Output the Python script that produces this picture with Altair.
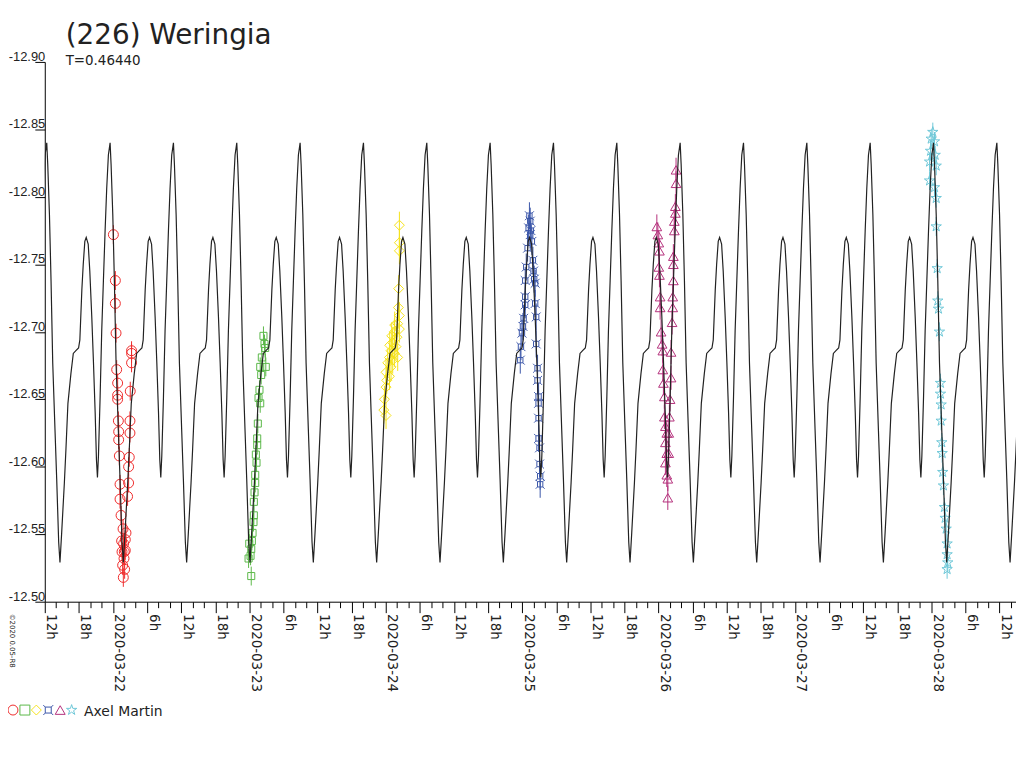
import altair as alt
import pandas as pd

TITLE = "(226) Weringia"
SUBTITLE = "T=0.46440"
OBSERVER = "Axel Martin"
COPYRIGHT = "\u00a92020 0.05-R8"

PERIOD_DAYS = 0.46440
PEAK_EPOCH = "2020-03-21 23:29:36"   # a main maximum of the model curve
X_START = "2020-03-21 12:00:00"
X_END = "2020-03-28 14:54:00"

# one cycle of the model curve
curve_phase = [0.0, 0.0157, 0.0424, 0.0675, 0.0942, 0.1303, 0.1569, 0.1883, 0.2087,
               0.2354, 0.2778, 0.3029, 0.3343, 0.3814, 0.4190, 0.4598, 0.5022, 0.5226,
               0.5540, 0.5760, 0.6011, 0.6230, 0.6544, 0.6795, 0.7109, 0.7376, 0.7643,
               0.7847, 0.8004, 0.8161, 0.8427, 0.8679, 0.8945, 0.9212, 0.9463, 0.9730]
curve_mag = [-12.840, -12.824, -12.787, -12.738, -12.677, -12.627, -12.591, -12.544, -12.529,
             -12.551, -12.588, -12.613, -12.647, -12.669, -12.684, -12.686, -12.688, -12.694,
             -12.731, -12.750, -12.767, -12.770, -12.765, -12.745, -12.711, -12.677, -12.640,
             -12.605, -12.592, -12.608, -12.652, -12.701, -12.738, -12.775, -12.806, -12.831]

# observation sessions: hours after the given date (UT), magnitudes
red_date = "2020-03-22"
red_h = [0.07, 0.42, 0.42, 0.54, 0.65, 0.82, 0.82, 0.82, 0.95, 1.00, 1.00, 1.12, 1.24, 1.24,
         1.42, 1.52, 1.59, 1.70, 1.82, 1.99, 2.29, 2.57, 2.75, 2.75, 2.87, 2.99, 2.99, 3.04,
         3.27, 3.27, 3.27, 1.77, 1.87, 1.94, 2.05, 2.17, 2.17]
red_m = [-12.772, -12.738, -12.721, -12.699, -12.672, -12.662, -12.653, -12.650, -12.634,
         -12.626, -12.620, -12.608, -12.587, -12.576, -12.564, -12.545, -12.537, -12.527,
         -12.518, -12.537, -12.551, -12.578, -12.588, -12.600, -12.607, -12.625, -12.634,
         -12.656, -12.677, -12.684, -12.686, -12.554, -12.543, -12.532, -12.524, -12.546,
         -12.538]

green_date = "2020-03-23"
green_h = [2.48, 2.66, 2.78, 2.19, 1.91, 2.89, 2.08, 1.78, 1.61, 1.91, 1.49, 1.38, 1.38, 1.14,
           1.26, 1.03, 1.03, 0.91, 0.79, 0.79, 0.73, 0.56, 0.44, -0.02, 0.33, 0.21, -0.14, 0.33]
green_m = [-12.697, -12.691, -12.688, -12.681, -12.674, -12.674, -12.668, -12.657, -12.651,
           -12.647, -12.632, -12.621, -12.616, -12.609, -12.603, -12.594, -12.588, -12.581,
           -12.574, -12.564, -12.559, -12.551, -12.545, -12.543, -12.539, -12.534, -12.532,
           -12.519]

yellow_date = "2020-03-24"
yellow_h = [2.40, 2.40, 2.40, 2.27, 2.22, 2.40, 2.10, 2.40, 1.52, 1.98, 1.22, 1.80, 0.93, 1.52,
            0.65, 2.10, 0.35, 0.93, 0.05, 0.65, 0.05, -0.23, -0.35, 0.05, 1.05, 1.57, 0.70,
            1.22, 0.17]
yellow_m = [-12.779, -12.766, -12.760, -12.732, -12.718, -12.712, -12.706, -12.702, -12.700,
            -12.696, -12.692, -12.689, -12.686, -12.684, -12.681, -12.681, -12.677, -12.674,
            -12.670, -12.667, -12.659, -12.650, -12.642, -12.638, -12.697, -12.705, -12.690,
            -12.679, -12.664]

blue_date = "2020-03-25"
blue_h = [1.42, 1.14, 1.42, 1.71, 0.96, 1.89, 0.72, 2.01, 2.12, 0.54, 2.29, 0.54, 2.29, 0.54,
          2.47, 0.26, 0.14, -0.03, 2.47, -0.21, -0.33, 2.71, 2.71, 2.89, 2.89, 2.89, 2.89,
          3.06, 3.06, 3.17, 3.17, 1.28, 1.54]
blue_m = [-12.782, -12.777, -12.772, -12.767, -12.762, -12.753, -12.748, -12.745, -12.739,
          -12.738, -12.736, -12.726, -12.721, -12.720, -12.711, -12.710, -12.704, -12.699,
          -12.691, -12.689, -12.679, -12.673, -12.664, -12.652, -12.647, -12.636, -12.621,
          -12.614, -12.602, -12.593, -12.587, -12.786, -12.775]

magenta_date = "2020-03-26"
magenta_h = [3.08, 3.08, 2.96, 2.96, 2.78, 2.78, 2.61, 2.61, 2.61, 2.50, 2.50, 2.38, 2.20, 2.20,
             2.03, 1.91, 1.80, 1.80, 1.63, 1.63,
             -0.30, -0.12, 0.05, 0.16, 0.05, 0.16, 0.28, 0.28, 0.45, 0.63, 0.75, 0.75, 0.86,
             1.03, 1.03, 1.21, 1.45, 1.21, 1.45, 1.21, 1.45]
magenta_m = [-12.820, -12.810, -12.793, -12.788, -12.782, -12.775, -12.756, -12.750, -12.738,
             -12.726, -12.718, -12.707, -12.685, -12.666, -12.650, -12.637, -12.625, -12.610,
             -12.591, -12.577,
             -12.778, -12.772, -12.766, -12.760, -12.748, -12.742, -12.726, -12.718, -12.700,
             -12.691, -12.686, -12.672, -12.662, -12.652, -12.637, -12.630, -12.625, -12.618,
             -12.610, -12.603, -12.594]

cyan_date = "2020-03-28"
cyan_h = [0.26, -0.02, 0.56, -0.14, 0.68, -0.31, 0.86, -0.31, 0.56, 0.86, 0.86, 1.03, 1.14,
          1.26, 1.43, 1.61, 1.61, 1.73, 1.73, 1.84, 1.91, 2.01, 2.13, 2.31, 2.43, 2.61, 2.78,
          2.78, 2.89, 2.78]
cyan_m = [-12.848, -12.843, -12.841, -12.834, -12.831, -12.826, -12.823, -12.812, -12.807,
          -12.799, -12.778, -12.747, -12.723, -12.717, -12.700, -12.662, -12.654, -12.646,
          -12.634, -12.618, -12.610, -12.596, -12.586, -12.570, -12.562, -12.554, -12.543,
          -12.535, -12.529, -12.524]

session_err = [0.007, 0.007, 0.010, 0.010, 0.009, 0.007]
session_colors = ["#ee2b2b", "#5cb84a", "#f5e21a", "#3a56a8", "#b4307c", "#6fc8d8"]

Y_TICKS = [-12.90, -12.85, -12.80, -12.75, -12.70, -12.65, -12.60, -12.55, -12.50]

# symbol shapes
STAR = ("M0,-1L0.223,-0.307L0.951,-0.309L0.361,0.117L0.588,0.809L0,0.38L-0.588,0.809"
        "L-0.361,0.117L-0.951,-0.309L-0.223,-0.307Z")
CURRENCY = ("M-0.6,-0.6L0.6,-0.6L0.6,0.6L-0.6,0.6Z M-0.6,-0.6L-1,-1 M0.6,-0.6L1,-1 "
            "M0.6,0.6L1,1 M-0.6,0.6L-1,1")
session_shapes = ["circle", "square", "diamond", CURRENCY, "triangle-up", STAR]
session_sizes = [100, 50, 100, 80, 95, 120]

EPOCH = pd.Timestamp("1970-01-01")


def to_ms(ts):
    return int((pd.Timestamp(ts) - EPOCH) / pd.Timedelta(milliseconds=1))


# ---- model curve ----
peak = pd.Timestamp(PEAK_EPOCH)
rows = []
for k in range(-2, 17):
    for ph, m in zip(curve_phase, curve_mag):
        t = peak + pd.Timedelta(days=(k + ph) * PERIOD_DAYS)
        rows.append({"t": to_ms(t), "mag": m})
curve_df = pd.DataFrame(rows)

# ---- sessions ----
sessions = [
    (red_date, red_h, red_m),
    (green_date, green_h, green_m),
    (yellow_date, yellow_h, yellow_m),
    (blue_date, blue_h, blue_m),
    (magenta_date, magenta_h, magenta_m),
    (cyan_date, cyan_h, cyan_m),
]

# ---- axes ----
x_start = pd.Timestamp(X_START)
x_end = pd.Timestamp(X_END)
tick_ms = []
tt = x_start
while tt <= x_end:
    tick_ms.append(to_ms(tt))
    tt = tt + pd.Timedelta(hours=2)

x_axis = alt.Axis(
    values=tick_ms,
    labelExpr=("utchours(datum.value) == 0 ? utcFormat(datum.value, '%Y-%m-%d') : "
               "(utchours(datum.value) % 6 == 0 ? utchours(datum.value) + 'h' : '')"),
    labelAngle=90, labelAlign="left", labelBaseline="alphabetic",
    labelOffset=2, labelPadding=1,
    tickSize={"condition": {"test": "utchours(datum.value) % 6 == 0", "value": 11}, "value": 6},
    labelFont="DejaVu Sans", labelFontSize=13.5, labelColor="#222222",
    domainColor="#000000", tickColor="#000000", domainWidth=1, tickWidth=1,
    title=None, grid=False, labelOverlap=False, labelFlush=False, labelBound=False,
)
y_axis = alt.Axis(
    values=Y_TICKS,
    labelExpr="replace(format(datum.value, '.2f'), '\u2212', '-')",
    labelAlign="right", labelBaseline="alphabetic", labelOffset=-1.5,
    tickSize=10, labelPadding=-10,
    labelFont="Liberation Sans", labelFontSize=13, labelColor="#222222",
    domainColor="#000000", tickColor="#000000", domainWidth=1, tickWidth=1,
    title=None, grid=False, labelOverlap=False, labelFlush=False, labelBound=False,
)

x_scale = alt.Scale(type="utc", domain=[to_ms(x_start), to_ms(x_end)], nice=False)
y_scale = alt.Scale(domain=[Y_TICKS[0], Y_TICKS[-1]], reverse=True, nice=False, zero=False)

x_enc = alt.X("t:T", scale=x_scale, axis=x_axis)

layers = []
for (date, hs, ms), err, col, shp, sz in zip(sessions, session_err, session_colors,
                                           session_shapes, session_sizes):
    base_t = pd.Timestamp(date)
    df = pd.DataFrame({
        "t": [to_ms(base_t + pd.Timedelta(hours=h)) for h in hs],
        "mag": ms,
    })
    df["lo"] = df["mag"] - err
    df["hi"] = df["mag"] + err
    layers.append(
        alt.Chart(df).mark_rule(color=col, strokeWidth=1, clip=True).encode(
            x=x_enc, y=alt.Y("lo:Q", scale=y_scale, axis=y_axis), y2="hi:Q")
    )
    layers.append(
        alt.Chart(df).mark_point(shape=shp, size=sz, filled=False, color=col,
                                 strokeWidth=1, opacity=1, clip=True).encode(
            x=x_enc, y=alt.Y("mag:Q", scale=y_scale, axis=y_axis))
    )

curve = alt.Chart(curve_df).mark_line(color="#222222", strokeWidth=1.2, clip=True).encode(
    x=x_enc, y=alt.Y("mag:Q", scale=y_scale, axis=y_axis))
layers.append(curve)

one = pd.DataFrame({"k": [0]})


def text_layer(txt, x, y, size, font="DejaVu Sans", angle=0, color="#222222"):
    return alt.Chart(one).mark_text(
        text=txt, align="left", baseline="alphabetic", fontSize=size, font=font,
        angle=angle, color=color).encode(x=alt.value(x), y=alt.value(y))


layers.append(text_layer(TITLE, 21, -18, 28))
layers.append(text_layer(SUBTITLE, 21, 3, 13.5))
layers.append(text_layer(COPYRIGHT, -35, 555, 7, angle=90))

legend_x = [-32, -20, -8.5, 3.5, 15.5, 27]
for lx, col, shp, sz in zip(legend_x, session_colors, session_shapes, session_sizes):
    layers.append(
        alt.Chart(one).mark_point(shape=shp, size=max(sz, 100), filled=False, color=col,
                                  strokeWidth=1, opacity=1).encode(
            x=alt.value(lx), y=alt.value(652))
    )
layers.append(text_layer(OBSERVER, 39.5, 658, 14))

chart = alt.layer(*layers).properties(
    width=977, height=543,
    autosize=alt.AutoSizeParams(type="none"),
    padding={"left": 37, "top": 52, "right": 0, "bottom": 155},
    background="white",
).configure_view(stroke=None)

chart.save("out.html", embed_options={"renderer": "svg", "actions": False})
